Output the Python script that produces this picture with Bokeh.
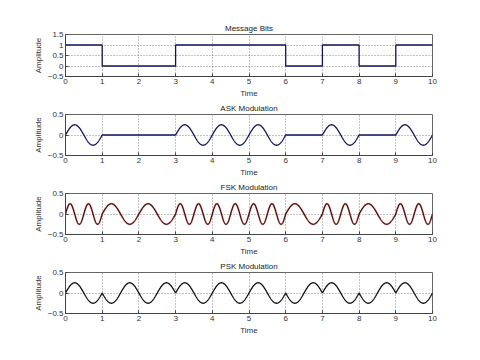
import numpy as np
from bokeh.plotting import figure
from bokeh.layouts import column
from bokeh.models import Range1d, FixedTicker
from bokeh.embed import file_html
from bokeh.resources import INLINE

# ---- data ----
bits = [1, 0, 0, 1, 1, 1, 0, 1, 0, 1]          # message bits, one per second
bit_times = list(range(len(bits) + 1))          # 0..10 s
amplitude = 0.25                                # carrier amplitude
f_carrier = 1.0                                 # ASK / PSK carrier (Hz)
f_one = 2.0                                     # FSK frequency for bit 1 (Hz)
f_zero = 1.0                                    # FSK frequency for bit 0 (Hz)
x_ticks = list(range(0, 11))
y_ticks_msg = [-0.5, 0, 0.5, 1, 1.5]
y_ticks_mod = [-0.5, 0, 0.5]
titles = ["Message Bits", "ASK Modulation", "FSK Modulation", "PSK Modulation"]

# waveform construction from the bits
t = np.linspace(0, len(bits), 2001)
b = np.array([bits[min(int(v), len(bits) - 1)] for v in t])
ask = amplitude * b * np.sin(2 * np.pi * f_carrier * t)
fsk = amplitude * np.sin(2 * np.pi * np.where(b == 1, f_one, f_zero) * t)
psk = amplitude * np.where(b == 1, 1, -1) * np.sin(2 * np.pi * f_carrier * t)

FONT = "Liberation Sans"


def make_fig(title, height, top, ylo, yhi, yticks):
    p = figure(width=464, height=height, x_range=Range1d(0, 10),
               y_range=Range1d(ylo, yhi), output_backend="svg",
               toolbar_location=None, min_border_left=65,
               min_border_right=32, min_border_top=top, min_border_bottom=10,
               background_fill_color="white", border_fill_color="white")
    p.title.text = title
    p.title.align = "center"
    p.title.text_font = FONT
    p.title.text_font_size = "8px"
    p.title.text_font_style = "normal"
    p.title.text_color = "#222222"
    p.title.standoff = 3
    p.outline_line_color = "#666666"
    p.outline_line_alpha = 1
    p.xaxis.ticker = FixedTicker(ticks=x_ticks)
    p.yaxis.ticker = FixedTicker(ticks=yticks)
    p.xaxis.axis_label = "Time"
    p.yaxis.axis_label = "Amplitude"
    for ax in (p.xaxis[0], p.yaxis[0]):
        ax.major_tick_in = 3
        ax.major_tick_out = 0
        ax.minor_tick_in = 0
        ax.minor_tick_out = 0
        ax.axis_line_color = "#444444"
        ax.major_tick_line_color = "#444444"
        ax.major_label_text_font = FONT
        ax.major_label_text_font_size = "8px"
        ax.major_label_text_color = "#333333"
        ax.axis_label_text_font = FONT
        ax.axis_label_text_font_size = "8px"
        ax.axis_label_text_font_style = "normal"
        ax.axis_label_text_color = "#333333"
        ax.major_label_standoff = 2
        ax.axis_label_standoff = 2
    p.xgrid.grid_line_dash = "1 2"
    p.ygrid.grid_line_dash = "1 2"
    p.xgrid.grid_line_color = "#666666"
    p.ygrid.grid_line_color = "#666666"
    p.xgrid.grid_line_alpha = 0.8
    p.ygrid.grid_line_alpha = 0.8
    return p


p1 = make_fig(titles[0], 100, 34, -0.5, 1.5, y_ticks_msg)
p1.step(x=bit_times, y=bits + [bits[-1]], mode="after", line_color="#14145e", line_width=1.3)

p2 = make_fig(titles[1], 79, 13, -0.5, 0.5, y_ticks_mod)
p2.line(t, ask, line_color="#14145e", line_width=1.3)

p3 = make_fig(titles[2], 79, 13, -0.5, 0.5, y_ticks_mod)
p3.line(t, fsk, line_color="#c03030", line_width=2.0, line_alpha=0.45)
p3.line(t, fsk, line_color="#3c0808", line_width=1.1)

p4 = make_fig(titles[3], 79, 13, -0.5, 0.5, y_ticks_mod)
p4.line(t, psk, line_color="#111111", line_width=1.3)

layout = column(p1, p2, p3, p4, spacing=0)
open("out.html", "w").write(file_html(layout, INLINE))
